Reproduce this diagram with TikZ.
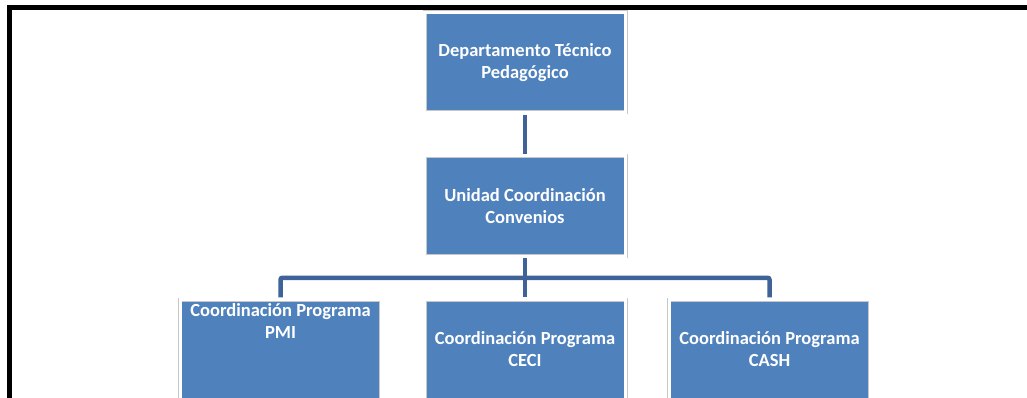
\documentclass[tikz,border=0pt]{standalone}
\usepackage{fontspec}
\setmainfont{Carlito}
\usetikzlibrary{positioning,calc}
\definecolor{boxblue}{HTML}{4F81BD}
\definecolor{linkblue}{HTML}{3F6398}

\begin{document}
\begin{tikzpicture}[x=1pt, y=-1pt, node distance=43pt,
boxnode/.style={rectangle, fill=boxblue, draw=black!22, double=white, double distance=3pt, line width=0.5pt,
  minimum width=201pt, minimum height=100pt, inner sep=2pt, align=center, text=white,
  font=\fontsize{18.5}{22}\selectfont\bfseries},
linknode/.style={draw=linkblue, line width=4.5pt, rounded corners=2pt, shorten <=2pt, shorten >=2pt},
]
\useasboundingbox (0,0) rectangle (1027,398);
%Frame
\draw[line width=5pt] (9.5,405) -- (9.5,7.5) -- (1035,7.5);

%Nodes
\node[boxnode]      (Depto)      at (525,62.5)     {Departamento Técnico\\Pedagógico};
\node[boxnode]      (Unidad)     [below=of Depto]  {Unidad Coordinación\\Convenios};
\node[boxnode]      (CECI)       [below=of Unidad] {Coordinación Programa\\CECI};
\node[boxnode, text depth=56pt] (PMI) [left=of CECI]  {Coordinación Programa\\PMI};
\node[boxnode]      (CASH)       [right=of CECI]   {Coordinación Programa\\CASH};
\coordinate         (bus)        at ($(Unidad.south)!0.5!(CECI.north)$);

%Lines
\draw[linknode] (Depto.south) -- (Unidad.north);
\draw[linknode] (Unidad.south) -- (CECI.north);
\draw[linknode] (PMI.north) |- (bus) -| (CASH.north);
\end{tikzpicture}
\end{document}
